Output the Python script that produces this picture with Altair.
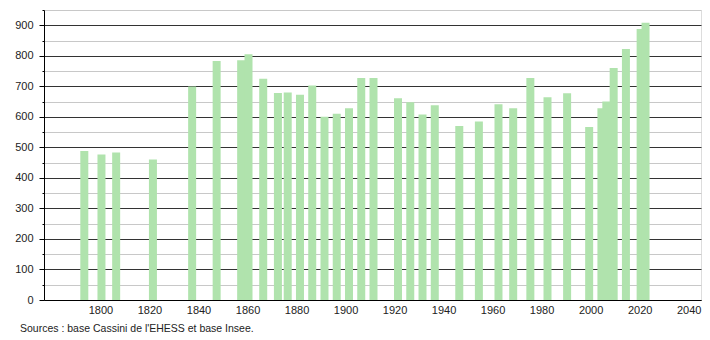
import altair as alt
import pandas as pd

years = [1793, 1800, 1806, 1821, 1837, 1847, 1857, 1860, 1866, 1872, 1876, 1881,
         1886, 1891, 1896, 1901, 1906, 1911, 1921, 1926, 1931, 1936, 1946, 1954,
         1962, 1968, 1975, 1982, 1990, 1999, 2004, 2006, 2009, 2014, 2020, 2022]
population = [488, 477, 483, 460, 699, 783, 785, 805, 725, 678, 680, 672,
              703, 600, 610, 628, 727, 727, 661, 648, 608, 638, 570, 585,
              641, 628, 727, 664, 677, 567, 628, 650, 760, 822, 888, 908]
x_tick_values = [1800, 1820, 1840, 1860, 1880, 1900, 1920, 1940, 1960, 1980, 2000, 2020, 2040]
y_tick_values = list(range(0, 951, 50))
source_text = "Sources : base Cassini de l'EHESS et base Insee."

df = pd.DataFrame({"year": years, "population": population})

FONT = "Liberation Sans"

bars = alt.Chart(df).mark_bar(size=8, color="#b0e3ad", xOffset=1).encode(
    x=alt.X("year:Q",
            scale=alt.Scale(domain=[1779, 2043], nice=False, zero=False),
            axis=alt.Axis(values=x_tick_values, format="d", title=None, ticks=False,
                          grid=False, domainColor="#000000", labelColor="#222222",
                          labelFont=FONT, labelFontSize=11, labelPadding=4,
                          labelFlush=False)),
    y=alt.Y("population:Q",
            scale=alt.Scale(domain=[0, 950], nice=False),
            axis=alt.Axis(values=y_tick_values, title=None,
                          labelExpr="datum.value % 100 === 0 ? datum.label : ''",
                          grid=True,
                          gridColor={"condition": {"test": "datum.value % 100 === 0", "value": "#333333"}, "value": "#c8c8c8"},
                          tickSize={"condition": {"test": "datum.value % 100 === 0", "value": 5}, "value": 2},
                          tickColor="#000000", domainColor="#000000",
                          labelColor="#222222", labelFont=FONT, labelFontSize=11,
                          labelPadding=6)),
)

note = alt.Chart(pd.DataFrame({"t": [source_text]})).mark_text(
    align="left", baseline="middle", font=FONT, fontSize=10.5, color="#222222"
).encode(x=alt.value(-24), y=alt.value(319), text="t:N")

chart = alt.layer(bars, note).properties(
    width=657, height=290,
    autosize=alt.AutoSizeParams(type="none"),
    padding={"left": 44, "top": 10, "right": 9, "bottom": 40},
).configure_view(stroke=None).configure(background="white")

chart.save("out.html", embed_options={"renderer": "svg", "actions": False})
